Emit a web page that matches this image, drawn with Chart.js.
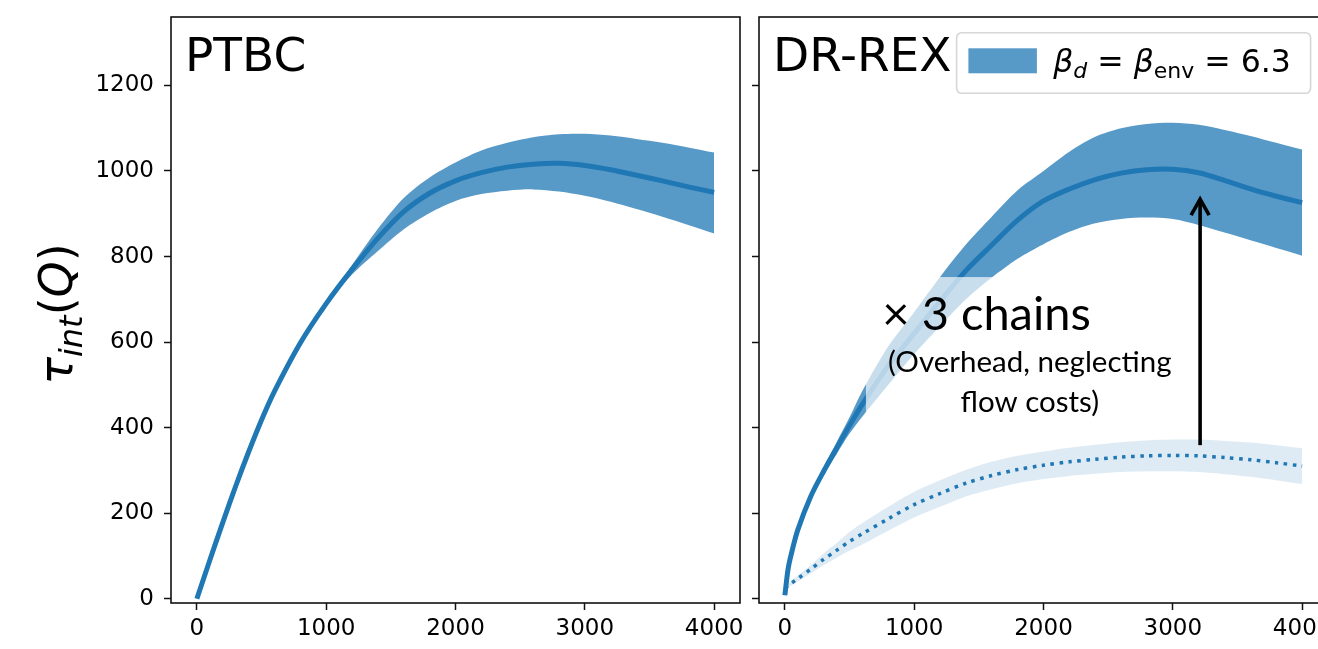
<!DOCTYPE html>
<html>
<head>
<meta charset="utf-8">
<script src="https://cdn.jsdelivr.net/npm/chart.js@4.4.1/dist/chart.umd.min.js"></script>
<style>
  html, body { margin: 0; padding: 0; background: #fff; overflow: hidden; width: 1318px; height: 649px; }
  .panel { position: absolute; top: 0; }
  #wrapL { left: 0; width: 750px; height: 649px; }
  #wrapR { left: 745px; width: 600px; height: 649px; }
</style>
</head>
<body>
<div id="wrapL" class="panel"><canvas id="ptbc" width="750" height="649"></canvas></div>
<div id="wrapR" class="panel"><canvas id="drrex" width="600" height="649"></canvas></div>
<script>
// ---- PTBC: tau_int(Q) vs Monte-Carlo time, mean and error band ----
const ptbcQ     = [0, 100, 200, 300, 400, 500, 600, 800, 1000, 1200, 1400, 1600, 1800, 2000, 2200, 2400, 2600, 2800, 3000, 3200, 3400, 3600, 3800, 4000];
const ptbcMean  = [0, 90, 178, 263, 343, 418, 485, 598, 690, 770, 843, 905, 948, 977, 996, 1009, 1016, 1018, 1013, 1003, 990, 977, 963, 950];
const ptbcUpper = [0, 91, 179, 264, 344, 419, 486, 599, 692, 780, 865, 937, 985, 1020, 1048, 1066, 1079, 1086, 1087, 1083, 1075, 1066, 1055, 1043];
const ptbcLower = [0, 89, 177, 262, 342, 417, 484, 597, 688, 758, 813, 864, 902, 930, 946, 954, 957, 952, 942, 928, 911, 893, 874, 854];

// ---- DR-REX: total cost (x3 chains) and single chain ----
const drQ        = [0, 25, 50, 100, 200, 300, 400, 500, 600, 800, 1000, 1200, 1400, 1600, 1800, 2000, 2200, 2400, 2600, 2800, 3000, 3200, 3400, 3600, 3800, 4000];
const drMean     = [8, 70, 105, 161, 239, 298, 352, 405, 455, 545, 620, 695, 767, 827, 885, 930, 958, 980, 995, 1003, 1004, 996, 978, 958, 941, 926];
const drUpper    = [8, 72, 108, 165, 246, 308, 366, 424, 486, 590, 670, 752, 828, 893, 955, 1000, 1045, 1080, 1100, 1110, 1113, 1108, 1096, 1082, 1066, 1050];
const drLower    = [8, 68, 102, 157, 232, 288, 338, 386, 426, 500, 572, 637, 700, 751, 795, 829, 858, 878, 888, 891, 888, 874, 856, 838, 820, 802];
const chainMean  = [25, 30, 36, 47, 69, 92, 113, 134, 152, 187, 220, 246, 270, 288, 302, 312, 320, 326, 331, 334, 335, 334, 330, 325, 318, 310];
const chainUpper = [28, 34, 41, 54, 79, 106, 130, 156, 177, 215, 250, 277, 301, 320, 334, 344, 353, 360, 366, 370, 372, 372, 369, 365, 359, 352];
const chainLower = [22, 26, 31, 40, 59, 78, 96, 112, 127, 159, 190, 215, 239, 256, 270, 280, 287, 292, 296, 298, 298, 296, 291, 285, 277, 268];

// ---- axes ----
const xTickValues = [0, 1000, 2000, 3000, 4000];
const yTickValues = [0, 200, 400, 600, 800, 1000, 1200];
const xRange = [-200, 4200];
const yRange = [-10, 1360];

// ---- texts ----
const panelTitles = ['PTBC', 'DR-REX'];
const annotationLines = ['\u00d7 3 chains', '(Overhead, neglecting', 'flow costs)'];

const BLUE = '#1f77b4';
const BAND = 'rgba(31,119,180,0.75)';
const BAND_LIGHT = 'rgba(31,119,180,0.15)';
const MPL_FONT = 'DejaVu Sans';

const pts = (xs, ys) => xs.map((x, i) => ({ x: x, y: ys[i] }));

function drawRuns(ctx, runs, x, y) {
  let cx = x;
  for (const r of runs) {
    ctx.font = r.font;
    ctx.fillText(r.text, cx, y + (r.dy || 0));
    cx += ctx.measureText(r.text).width;
  }
  return cx - x;
}
function runsWidth(ctx, runs) {
  let w = 0;
  for (const r of runs) { ctx.font = r.font; w += ctx.measureText(r.text).width; }
  return w;
}

function scales(yAxisWidth, showYLabels) {
  const tickFont = { family: MPL_FONT, size: 23 };
  const grid = { display: true, drawOnChartArea: false, drawTicks: true, tickLength: 7, tickWidth: 1.5, tickColor: '#111', color: '#111' };
  return {
    x: {
      type: 'linear', min: xRange[0], max: xRange[1],
      afterBuildTicks: s => { s.ticks = xTickValues.map(v => ({ value: v })); },
      afterFit: s => { s.height = 46; s.paddingLeft = 0; s.paddingRight = 0; },
      grid: grid, border: { display: false },
      ticks: { color: '#000', font: tickFont, padding: 5, maxRotation: 0, autoSkip: false, callback: v => String(v) }
    },
    y: {
      type: 'linear', min: yRange[0], max: yRange[1],
      afterBuildTicks: s => { s.ticks = yTickValues.map(v => ({ value: v })); },
      afterFit: s => { s.width = yAxisWidth; s.paddingTop = 0; s.paddingBottom = 0; },
      grid: grid, border: { display: false },
      ticks: { display: showYLabels, color: '#000', font: tickFont, padding: 10, autoSkip: false, callback: v => String(v) }
    }
  };
}

const framePlugin = {
  id: 'frame',
  afterDraw(chart) {
    const { ctx, chartArea: a } = chart;
    ctx.save();
    ctx.strokeStyle = '#111';
    ctx.lineWidth = 1.6;
    ctx.strokeRect(a.left, a.top, a.right - a.left, a.bottom - a.top);
    // panel title in the upper-left corner
    const t = chart.options.plugins.panelTitle;
    if (t) {
      ctx.fillStyle = '#000';
      ctx.font = '47px "' + MPL_FONT + '"';
      ctx.textBaseline = 'alphabetic';
      ctx.textAlign = 'left';
      ctx.fillText(t, a.left + 14, a.top + 54);
    }
    ctx.restore();
  }
};

// y-axis label tau_int(Q), drawn rotated
const yLabelPlugin = {
  id: 'ylabel',
  afterDraw(chart) {
    const { ctx, chartArea: a } = chart;
    const F = 46;
    const runs = [
      { text: '\u03c4', font: 'italic ' + F + 'px "' + MPL_FONT + '"' },
      { text: 'int', font: 'italic ' + Math.round(F * 0.7) + 'px "' + MPL_FONT + '"', dy: F * 0.22 },
      { text: '(', font: F + 'px "' + MPL_FONT + '"' },
      { text: 'Q', font: 'italic ' + F + 'px "' + MPL_FONT + '"' },
      { text: ')', font: F + 'px "' + MPL_FONT + '"' }
    ];
    ctx.save();
    ctx.fillStyle = '#000';
    ctx.textBaseline = 'alphabetic';
    ctx.textAlign = 'left';
    const w = runsWidth(ctx, runs);
    ctx.translate(a.left - 99, (a.top + a.bottom) / 2 + 4);
    ctx.rotate(-Math.PI / 2);
    drawRuns(ctx, runs, -w / 2, 0);
    ctx.restore();
  }
};

// translucent text box, annotation text and arrow on the DR-REX panel
const annotationPlugin = {
  id: 'annot',
  afterDatasetsDraw(chart) {
    const { ctx, chartArea: a, scales: { x, y } } = chart;
    ctx.save();
    ctx.beginPath();
    ctx.rect(a.left, a.top, a.right - a.left, a.bottom - a.top);
    ctx.clip();
    // text box background
    const bx0 = x.getPixelForValue(627), bx1 = x.getPixelForValue(3093);
    const by0 = y.getPixelForValue(752), by1 = y.getPixelForValue(424);
    ctx.fillStyle = 'rgba(255,255,255,0.68)';
    ctx.fillRect(bx0, by0, bx1 - bx0, by1 - by0);

    ctx.fillStyle = '#000';
    ctx.textBaseline = 'alphabetic';
    ctx.font = '47px Lato';
    ctx.textAlign = 'left';
    ctx.fillText(annotationLines[0], x.getPixelForValue(754), y.getPixelForValue(628));
    ctx.font = '29.5px Lato';
    ctx.textAlign = 'center';
    ctx.fillText(annotationLines[1], x.getPixelForValue(1894), y.getPixelForValue(530));
    ctx.fillText(annotationLines[2], x.getPixelForValue(1894), y.getPixelForValue(437));

    // arrow from single chain up to the x3 curve
    const ax = x.getPixelForValue(3211);
    const ay0 = y.getPixelForValue(359), ay1 = y.getPixelForValue(934);
    ctx.strokeStyle = '#000';
    ctx.lineWidth = 3.6;
    ctx.lineCap = 'butt';
    ctx.lineJoin = 'miter';
    ctx.beginPath();
    ctx.moveTo(ax, ay0);
    ctx.lineTo(ax, ay1 + 1);
    ctx.stroke();
    ctx.beginPath();
    ctx.moveTo(ax - 9, ay1 + 16);
    ctx.lineTo(ax, ay1);
    ctx.lineTo(ax + 9, ay1 + 16);
    ctx.stroke();
    ctx.restore();
  },
  afterDraw(chart) {
    // legend, anchored to the upper-right corner of the axes
    const { ctx, chartArea: a } = chart;
    const lw = 354, lh = 60.6;
    const lx = a.right - 17.4 - lw, ly = a.top + 15.7;
    ctx.save();
    ctx.beginPath();
    if (ctx.roundRect) ctx.roundRect(lx, ly, lw, lh, 5); else ctx.rect(lx, ly, lw, lh);
    ctx.fillStyle = 'rgba(255,255,255,0.8)';
    ctx.fill();
    ctx.strokeStyle = '#d6d6d6';
    ctx.lineWidth = 1.6;
    ctx.stroke();
    const ds = chart.data.datasets[1];
    ctx.fillStyle = ds.backgroundColor;
    ctx.fillRect(lx + 11.8, ly + 15.6, 68.5, 25);
    const F = 31.5;
    const it = 'italic ' + F + 'px "' + MPL_FONT + '"';
    const rm = F + 'px "' + MPL_FONT + '"';
    const sub = Math.round(F * 0.7);
    const runs = [
      { text: '\u03b2', font: it },
      { text: 'd', font: 'italic ' + sub + 'px "' + MPL_FONT + '"', dy: F * 0.2 },
      { text: ' = ', font: rm },
      { text: '\u03b2', font: it },
      { text: 'env', font: sub + 'px "' + MPL_FONT + '"', dy: F * 0.2 },
      { text: ' = 6.3', font: rm }
    ];
    ctx.fillStyle = '#000';
    ctx.textBaseline = 'alphabetic';
    ctx.textAlign = 'left';
    drawRuns(ctx, runs, lx + 96.6, ly + 39);
    ctx.restore();
  }
};

const common = {
  responsive: false,
  animation: false,
  events: [],
  elements: { point: { radius: 0 }, line: { tension: 0.3 } },
};

new Chart(document.getElementById('ptbc'), {
  type: 'line',
  data: {
    datasets: [
      { data: pts(ptbcQ, ptbcMean), borderColor: BLUE, borderWidth: 5, fill: false, order: 0 },
      { data: pts(ptbcQ, ptbcUpper), borderWidth: 0, borderColor: 'rgba(0,0,0,0)', backgroundColor: BAND, fill: '+1', order: 2 },
      { data: pts(ptbcQ, ptbcLower), borderWidth: 0, borderColor: 'rgba(0,0,0,0)', fill: false, order: 2 }
    ]
  },
  options: Object.assign({}, common, {
    layout: { padding: { left: 0, top: 17, right: 10, bottom: 0 } },
    scales: scales(171, true),
    plugins: { legend: { display: false }, tooltip: { enabled: false }, panelTitle: panelTitles[0] }
  }),
  plugins: [framePlugin, yLabelPlugin]
});

new Chart(document.getElementById('drrex'), {
  type: 'line',
  data: {
    datasets: [
      { label: 'x3', data: pts(drQ, drMean), borderColor: BLUE, borderWidth: 5, fill: false, order: 0 },
      { data: pts(drQ, drUpper), borderWidth: 0, borderColor: 'rgba(0,0,0,0)', backgroundColor: BAND, fill: '+1', order: 2 },
      { data: pts(drQ, drLower), borderWidth: 0, borderColor: 'rgba(0,0,0,0)', fill: false, order: 2 },
      { data: pts(drQ, chainMean), borderColor: BLUE, borderWidth: 3.5, borderDash: [3.5, 5.5], borderCapStyle: 'butt', fill: false, order: 0 },
      { data: pts(drQ, chainUpper), borderWidth: 0, borderColor: 'rgba(0,0,0,0)', backgroundColor: BAND_LIGHT, fill: '+1', order: 2 },
      { data: pts(drQ, chainLower), borderWidth: 0, borderColor: 'rgba(0,0,0,0)', fill: false, order: 2 }
    ]
  },
  options: Object.assign({}, common, {
    layout: { padding: { left: 0, top: 17, right: 17, bottom: 0 } },
    scales: scales(14, false),
    plugins: { legend: { display: false }, tooltip: { enabled: false }, panelTitle: panelTitles[1] }
  }),
  plugins: [framePlugin, annotationPlugin]
});
</script>
</body>
</html>
